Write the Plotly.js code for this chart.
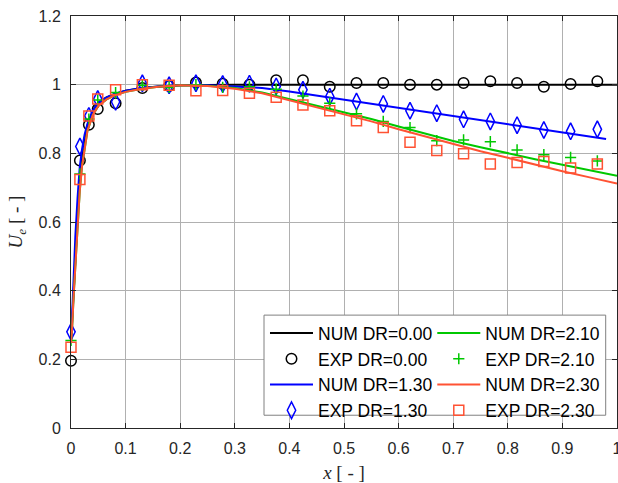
<!DOCTYPE html>
<html>
<head>
<meta charset="utf-8">
<script src="https://cdn.plot.ly/plotly-3.0.1.min.js"></script>
<style>html,body{margin:0;padding:0;background:#fff;}#chart{width:618px;height:483px;}</style>
</head>
<body>
<div id="chart"></div>
<script>
// Experimental stations (x)
const xExp = [0, 0.0163, 0.0327, 0.049, 0.0817, 0.1307, 0.1797, 0.2288, 0.2778, 0.3268, 0.3758, 0.4248, 0.4739, 0.5229, 0.5719, 0.6209, 0.6699, 0.719, 0.768, 0.817, 0.866, 0.915, 0.964];
const expDR000 = [0.196, 0.779, 0.883, 0.929, 0.946, 0.99, 0.996, 1.006, 1.003, 1.0, 1.013, 1.013, 0.994, 1.005, 1.005, 1.0, 1.0, 1.005, 1.01, 1.005, 0.994, 1.002, 1.01];
const expDR130 = [0.28, 0.82, 0.909, 0.958, 0.95, 1.004, 0.998, 1.004, 1.002, 1.003, 0.995, 0.985, 0.965, 0.951, 0.944, 0.924, 0.917, 0.899, 0.893, 0.882, 0.868, 0.864, 0.87];
const expDR210 = [0.255, 0.74, 0.9, 0.955, 0.977, 0.998, 0.992, 1.0, 0.992, 0.994, 0.987, 0.967, 0.946, 0.915, 0.893, 0.875, 0.837, 0.839, 0.834, 0.81, 0.796, 0.788, 0.778];
const expDR230 = [0.235, 0.724, 0.909, 0.958, 0.985, 1.0, 0.998, 0.982, 0.983, 0.975, 0.963, 0.941, 0.924, 0.895, 0.875, 0.832, 0.808, 0.799, 0.769, 0.773, 0.776, 0.757, 0.769];

// Numerical curves
const xNum = [0, 0.002, 0.005, 0.008, 0.012, 0.016, 0.02, 0.025, 0.03, 0.04, 0.05, 0.065, 0.08, 0.1, 0.13, 0.16, 0.2, 0.25, 0.3, 0.35, 0.4, 0.45, 0.5, 0.55, 0.6, 0.65, 0.7, 0.75, 0.8, 0.85, 0.9, 0.95, 0.98, 1.0];
const numDR000 = [0.25, 0.31, 0.43, 0.53, 0.65, 0.73, 0.79, 0.845, 0.88, 0.925, 0.948, 0.963, 0.973, 0.982, 0.99, 0.995, 0.998, 1.0, 1.0, 1.0, 1.0, 1.0, 1.0, 1.0, 1.0, 1.0, 1.0, 1.0, 1.0, 1.0, 1.0, 1.0, 1.0, 1.0];
const xNum130 = [0, 0.002, 0.005, 0.008, 0.012, 0.016, 0.02, 0.025, 0.03, 0.04, 0.05, 0.065, 0.08, 0.1, 0.13, 0.16, 0.2, 0.25, 0.3, 0.35, 0.4, 0.45, 0.5, 0.55, 0.6, 0.65, 0.7, 0.75, 0.8, 0.85, 0.9, 0.95, 0.98];
const numDR130 = [0.25, 0.33, 0.45, 0.56, 0.67, 0.76, 0.81, 0.855, 0.885, 0.925, 0.948, 0.963, 0.973, 0.982, 0.99, 0.995, 0.998, 0.998, 0.995, 0.99, 0.98, 0.968, 0.958, 0.945, 0.932, 0.92, 0.908, 0.896, 0.885, 0.872, 0.86, 0.849, 0.842];
const numDR210 = [0.25, 0.29, 0.39, 0.48, 0.6, 0.69, 0.76, 0.82, 0.865, 0.912, 0.938, 0.957, 0.969, 0.979, 0.988, 0.994, 0.998, 0.997, 0.99, 0.977, 0.958, 0.94, 0.92, 0.9, 0.878, 0.857, 0.836, 0.818, 0.8, 0.783, 0.767, 0.751, 0.741, 0.735];
const numDR230 = [0.25, 0.29, 0.39, 0.47, 0.59, 0.69, 0.76, 0.82, 0.865, 0.912, 0.938, 0.957, 0.969, 0.979, 0.988, 0.994, 0.998, 0.996, 0.988, 0.975, 0.955, 0.935, 0.914, 0.893, 0.87, 0.848, 0.826, 0.806, 0.787, 0.767, 0.748, 0.73, 0.719, 0.712];

const xTicks = [0, 0.1, 0.2, 0.3, 0.4, 0.5, 0.6, 0.7, 0.8, 0.9, 1];
const yTicks = [0, 0.2, 0.4, 0.6, 0.8, 1, 1.2];

const cBlack = '#000000', cBlue = '#0000ff', cGreen = '#00c800', cRed = '#ff5233';

function numTrace(x, y, name, color, leg) {
  return {x: x, y: y, name: name, type: 'scatter', mode: 'lines',
    line: {color: color, width: 2}, legend: leg};
}
function expTrace(x, y, name, color, symbol, size, leg) {
  return {x: x, y: y, name: name, type: 'scatter', mode: 'markers', cliponaxis: false,
    marker: {symbol: symbol, size: size, color: color, line: {color: color, width: 1.5}}, legend: leg};
}

const data = [
  numTrace(xNum, numDR000, 'NUM DR=0.00', cBlack, 'legend'),
  expTrace(xExp, expDR000, 'EXP DR=0.00', cBlack, 'circle-open', 10.5, 'legend'),
  numTrace(xNum130, numDR130, 'NUM DR=1.30', cBlue, 'legend'),
  expTrace(xExp, expDR130, 'EXP DR=1.30', cBlue, 'diamond-tall-open', 12, 'legend'),
  numTrace(xNum, numDR210, 'NUM DR=2.10', cGreen, 'legend2'),
  expTrace(xExp, expDR210, 'EXP DR=2.10', cGreen, 'cross-thin-open', 8, 'legend2'),
  numTrace(xNum, numDR230, 'NUM DR=2.30', cRed, 'legend2'),
  expTrace(xExp, expDR230, 'EXP DR=2.30', cRed, 'square-open', 10, 'legend2')
];

const tickFont = {family: 'Liberation Sans, Arial, sans-serif', size: 16, color: '#262626'};
const legFont = {family: 'Liberation Sans, Arial, sans-serif', size: 17.5, color: '#000000'};

const layout = {
  width: 618, height: 483,
  margin: {l: 71, r: 1, t: 16, b: 55, pad: 0},
  paper_bgcolor: '#ffffff', plot_bgcolor: '#ffffff',
  showlegend: true,
  xaxis: {
    range: [0, 1], tickvals: xTicks, ticktext: xTicks.map(String),
    ticks: 'inside', ticklen: 5, tickcolor: '#262626', tickwidth: 1,
    showline: true, linecolor: '#262626', linewidth: 1, mirror: 'ticks',
    showgrid: true, gridcolor: '#b0b0b0', gridwidth: 1, zeroline: false,
    tickfont: tickFont, ticklabelstandoff: 6, ticklabeloverflow: 'allow',
    title: {text: '<i>x</i> [ - ]', font: {family: 'Liberation Serif, serif', size: 19, color: '#262626'}, standoff: 12}
  },
  yaxis: {
    range: [0, 1.2], tickvals: yTicks, ticktext: yTicks.map(String),
    ticks: 'inside', ticklen: 5, tickcolor: '#262626', tickwidth: 1,
    showline: true, linecolor: '#262626', linewidth: 1, mirror: 'ticks',
    showgrid: true, gridcolor: '#b0b0b0', gridwidth: 1, zeroline: false,
    tickfont: tickFont, ticklabelstandoff: 6, ticklabeloverflow: 'allow',
    title: {text: '<i>U<sub>e</sub></i> [ - ]', font: {family: 'Liberation Serif, serif', size: 19, color: '#262626'}, standoff: 10}
  },
  legend: {
    x: 0.3553, y: 0.274, xanchor: 'left', yanchor: 'top',
    bgcolor: 'rgba(255,255,255,0)', borderwidth: 0, font: legFont,
    itemwidth: 43, tracegroupgap: 0, itemclick: false
  },
  legend2: {
    x: 0.6617, y: 0.274, xanchor: 'left', yanchor: 'top',
    bgcolor: 'rgba(255,255,255,0)', borderwidth: 0, font: legFont,
    itemwidth: 43, tracegroupgap: 0, itemclick: false
  },
  shapes: [{
    type: 'rect', xref: 'paper', yref: 'paper', layer: 'above',
    x0: 0.3535, x1: 0.9793, y0: 0.031, y1: 0.274,
    fillcolor: '#ffffff', line: {color: '#808080', width: 1}
  }]
};

Plotly.newPlot('chart', data, layout, {staticPlot: true, displayModeBar: false});
</script>
</body>
</html>
